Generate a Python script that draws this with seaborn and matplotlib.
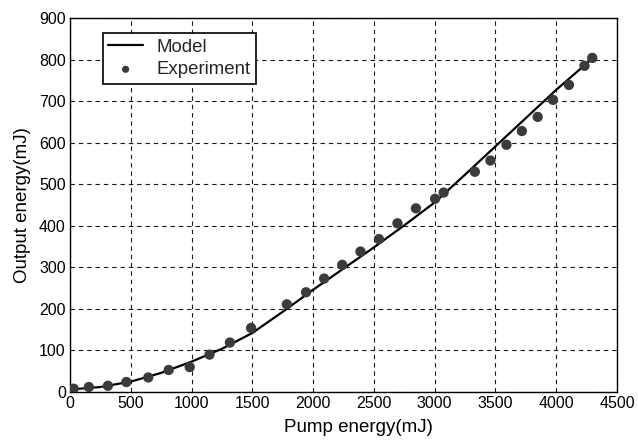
import matplotlib
matplotlib.use("Agg")
import matplotlib.pyplot as plt
import pandas as pd
import seaborn as sns

pump_exp = [30, 155, 312, 464, 644, 812, 985, 1148, 1316, 1490, 1784, 1942,
            2091, 2240, 2390, 2542, 2694, 2846, 3004, 3074, 3331, 3459, 3591,
            3718, 3848, 3974, 4105, 4233, 4297]
out_exp = [8, 12, 15, 24, 35, 53, 60, 90, 119, 154, 211, 240,
           273, 306, 338, 368, 406, 442, 465, 480, 530, 557, 595,
           628, 662, 703, 739, 785, 804]

# model curve
pump_model = [0, 250, 500, 750, 1000, 1250, 1500, 1750, 2000, 2250, 2500,
              2750, 3000, 3250, 3500, 3750, 4000, 4280]
out_model = [6, 12, 25, 46, 73, 104, 142, 193, 246, 297, 348,
             401, 456, 523, 591, 659, 727, 798]

x_ticks = list(range(0, 4501, 500))
y_ticks = list(range(0, 901, 100))

sns.set_theme(style="white")
plt.rcParams["font.family"] = ["Liberation Sans", "DejaVu Sans"]

df_model = pd.DataFrame({"pump": pump_model, "out": out_model})
df_exp = pd.DataFrame({"pump": pump_exp, "out": out_exp})

fig = plt.figure(figsize=(6.38, 4.42), dpi=100)
ax = fig.add_axes([0.1097, 0.1131, 0.8573, 0.8462])

sns.lineplot(data=df_model, x="pump", y="out", ax=ax, color="black",
             linewidth=1.6, label="Model", zorder=3)
sns.scatterplot(data=df_exp, x="pump", y="out", ax=ax, color="#3b3b3b",
                s=55, edgecolor="none", label="Experiment", zorder=4)

ax.set_xlim(0, 4500)
ax.set_ylim(0, 900)
ax.set_xticks(x_ticks)
ax.set_yticks(y_ticks)
ax.tick_params(axis="both", labelsize=11.5, colors="black", direction="in",
               length=4, width=0.8, pad=3)
ax.grid(True, color="black", linestyle=(0, (4, 3.5)), linewidth=0.8, alpha=0.9)
ax.set_axisbelow(True)
for sp in ax.spines.values():
    sp.set_color("black")
    sp.set_linewidth(1.0)

ax.set_xlabel("Pump energy(mJ)", fontsize=13.5, color="black")
ax.set_ylabel("Output energy(mJ)", fontsize=13.5, color="black", labelpad=6)
ax.xaxis.set_label_coords(0.528, -0.072)

leg = ax.legend(loc="upper left", bbox_to_anchor=(0.060, 0.96), fontsize=13.4,
                frameon=True, fancybox=False, framealpha=1, edgecolor="black",
                handlelength=1.85, borderpad=0.3, labelspacing=0.3,
                handletextpad=0.75, borderaxespad=0, markerscale=0.7)
leg.get_frame().set_linewidth(1.2)

fig.savefig("out.png", dpi=100)
